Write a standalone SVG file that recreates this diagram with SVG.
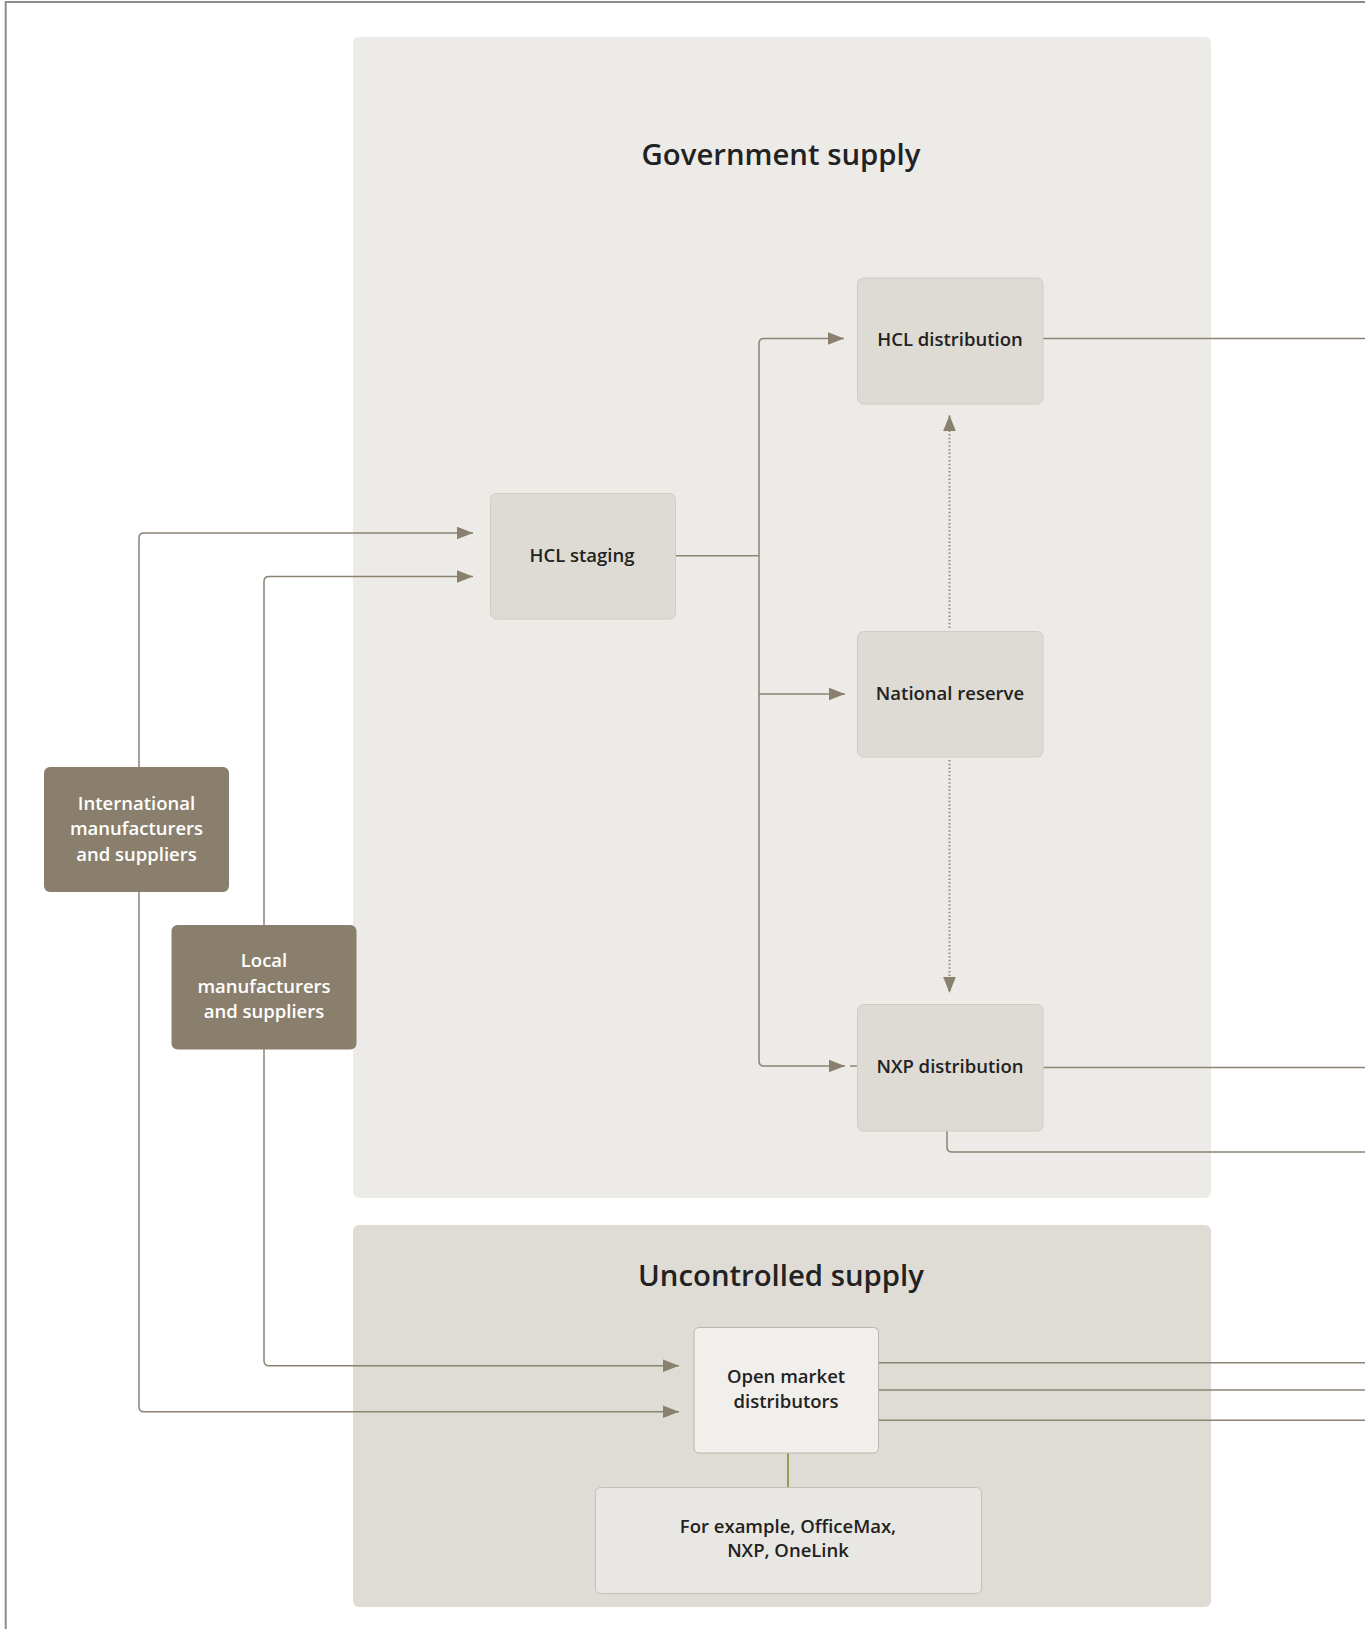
<svg xmlns="http://www.w3.org/2000/svg" width="1365" height="1629" viewBox="0 0 1365 1629">
<defs>
<marker id="arr" markerUnits="userSpaceOnUse" markerWidth="17" markerHeight="13" refX="16" refY="6.3" orient="auto">
<path d="M0,0 L16,6.3 L0,12.6 z" fill="#8a806e"/>
</marker>
<style>
.t{font-family:"Open Sans","Liberation Sans",sans-serif;font-weight:600;fill:#222;text-anchor:middle}
.n{font-size:18.5px}
.w{fill:#ffffff}
.h{font-size:29.3px}
.node{fill:#dedbd5;stroke:#d0ccc4;stroke-width:1}
.dark{fill:#8a7f6c}
.ln{fill:none;stroke:#8c8373;stroke-width:1.5}
.dot{fill:none;stroke:#948b7d;stroke-width:2;stroke-dasharray:1.5 2.2}
</style>
</defs>
<rect width="1365" height="1629" fill="#ffffff"/>
<path d="M5.7,1629 V2 H1365" fill="none" stroke="#8c8c8c" stroke-width="2"/>

<g id="gov-panel">
<rect x="353" y="37" width="858" height="1161" rx="6" fill="#edebe7"/>
<text class="t h" x="781" y="165">Government supply</text>
</g>
<g id="unc-panel">
<rect x="353" y="1225" width="858" height="382" rx="6" fill="#dfdcd5"/>
<text class="t h" x="781" y="1286">Uncontrolled supply</text>
</g>

<g id="connectors">
<path class="ln" d="M139,767 V538 Q139,533 144,533 H473" marker-end="url(#arr)"/>
<path class="ln" d="M139,892 V1406.7 Q139,1411.7 144,1411.7 H679" marker-end="url(#arr)"/>
<path class="ln" d="M264,925 V581.5 Q264,576.5 269,576.5 H473" marker-end="url(#arr)"/>
<path class="ln" d="M264,1049 V1360.7 Q264,1365.7 269,1365.7 H679" marker-end="url(#arr)"/>
<path class="ln" d="M676,555.7 H759"/>
<path class="ln" d="M759,555.7 V343.5 Q759,338.5 764,338.5 H844" marker-end="url(#arr)"/>
<path class="ln" d="M759,694 H845" marker-end="url(#arr)"/>
<path class="ln" d="M759,555.7 V1061 Q759,1066 764,1066 H845" marker-end="url(#arr)"/>
<path class="ln" d="M850,1066 H857"/>
<path class="dot" d="M949.5,628 V415" marker-end="url(#arr)"/>
<path class="dot" d="M949.5,760 V993" marker-end="url(#arr)"/>
<path class="ln" d="M1043,338.5 H1365"/>
<path class="ln" d="M1043.5,1067.6 H1365"/>
<path class="ln" d="M947,1131 V1147 Q947,1152 952,1152 H1365"/>
<path class="ln" d="M879,1362.7 H1365"/>
<path class="ln" d="M879,1390 H1365"/>
<path class="ln" d="M879,1420.3 H1365"/>
<path d="M788,1453 V1487.5" fill="none" stroke="#8a9a40" stroke-width="1.8"/>
</g>

<g id="hcl-staging">
<rect class="node" x="490.5" y="493.5" width="185" height="125.5" rx="6"/>
<text class="t n" x="582" y="562">HCL staging</text>
</g>
<g id="hcl-distribution">
<rect class="node" x="857.5" y="278" width="185.5" height="126" rx="6"/>
<text class="t n" x="950" y="346">HCL distribution</text>
</g>
<g id="national-reserve">
<rect class="node" x="857.5" y="631.5" width="185.5" height="125.5" rx="6"/>
<text class="t n" x="950" y="700">National reserve</text>
</g>
<g id="nxp-distribution">
<rect class="node" x="857.5" y="1004.5" width="185.5" height="126.5" rx="6"/>
<text class="t n" x="950" y="1073">NXP distribution</text>
</g>
<g id="international">
<rect class="dark" x="44" y="767" width="185" height="125" rx="6"/>
<text class="t n w" x="136.5" y="810">International</text>
<text class="t n w" x="136.5" y="835">manufacturers</text>
<text class="t n w" x="136.5" y="860.5">and suppliers</text>
</g>
<g id="local">
<rect class="dark" x="171.5" y="925" width="185" height="124.5" rx="6"/>
<text class="t n w" x="264" y="967">Local</text>
<text class="t n w" x="264" y="992.5">manufacturers</text>
<text class="t n w" x="264" y="1018">and suppliers</text>
</g>
<g id="open-market">
<rect x="694" y="1327.5" width="184.5" height="125.5" rx="5" fill="#f0efec" stroke="#bcb6ab" stroke-width="1"/>
<text class="t n" x="786" y="1383">Open market</text>
<text class="t n" x="786" y="1408">distributors</text>
</g>
<g id="examples">
<rect x="595.5" y="1487.5" width="386" height="106" rx="5" fill="#e9e7e3" stroke="#c5c0b7" stroke-width="1"/>
<text class="t n" x="788" y="1533">For example, OfficeMax,</text>
<text class="t n" x="788" y="1557">NXP, OneLink</text>
</g>
</svg>
